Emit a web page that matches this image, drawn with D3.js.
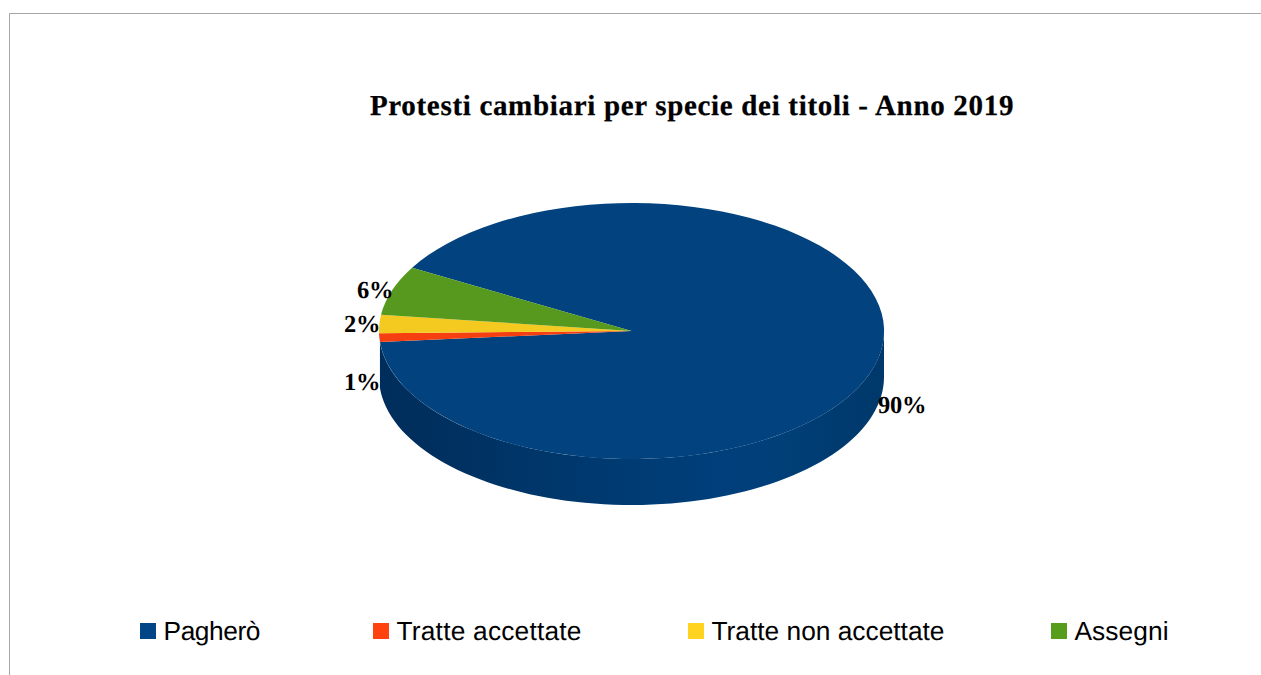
<!DOCTYPE html>
<html>
<head>
<meta charset="utf-8">
<script src="https://d3js.org/d3.v7.min.js"></script>
<style>
  html, body { margin: 0; padding: 0; background: #fff; overflow: hidden; }
  svg { display: block; }
  text { text-rendering: geometricPrecision; }
</style>
</head>
<body>
<svg id="chart" width="1261" height="675"></svg>
<script>
const title = "Protesti cambiari per specie dei titoli - Anno 2019";
const categories = ["Pagherò", "Tratte accettate", "Tratte non accettate", "Assegni"];
const values = [90.4, 1.1, 2.3, 6.2];
const valueLabels = ["90%", "1%", "2%", "6%"];
const legendColors = ["#004586", "#ff420e", "#ffd320", "#579d1c"];
const topColors = ["#02437f", "#f63f10", "#f4ca20", "#56991e"];

const chart = d3.select("#chart");

// frame of the original picture, only top and left are visible
chart.append("path")
  .attr("d", "M9.5,675V13.5H1261")
  .attr("fill", "none")
  .attr("stroke", "#a6a6a6");

chart.append("text")
  .text(title)
  .attr("x", 692)
  .attr("y", 115)
  .attr("text-anchor", "middle")
  .attr("font-family", "'Liberation Serif'")
  .attr("font-weight", "bold")
  .attr("font-size", 29)
  .attr("letter-spacing", 0.68)
  .attr("stroke", "#000")
  .attr("stroke-width", 0.25)
  .attr("fill", "#000");

// pie geometry
const cx = 631.5, cy = 331, rx = 252.5, ry = 128, depth = 46;
const startDeg = 299.6;

const pie = d3.pie().sort(null).value(d => d)
  .startAngle(startDeg * Math.PI / 180)
  .endAngle((startDeg + 360) * Math.PI / 180);
const slices = pie(values);

// flattened circle positions
const xPos = a => cx + rx * Math.sin(a);
const yPos = a => cy - ry * Math.cos(a);

// wall shading
const defs = chart.append("defs");
const shade = defs.append("linearGradient")
  .attr("id", "wall")
  .attr("gradientUnits", "userSpaceOnUse")
  .attr("x1", cx - rx).attr("x2", cx + rx)
  .attr("y1", 0).attr("y2", 0);
shade.selectAll("stop")
  .data([[0, "#002e5c"], [0.1, "#002f5e"], [0.3, "#003669"], [0.5, "#003b73"],
         [0.68, "#003f7b"], [0.8, "#003f78"], [0.93, "#003a6e"], [1, "#00386b"]])
  .enter()
  .append("stop")
  .attr("offset", d => d[0])
  .attr("stop-color", d => d[1]);

// side wall, front half only (90deg to 270deg clockwise from the top)
function wallPath(a0, a1) {
  const n = 80;
  const angles = d3.range(n + 1).map(i => a0 + (a1 - a0) * i / n);
  const wall = d3.area()
    .x(a => xPos(a))
    .y0(a => yPos(a))
    .y1(a => yPos(a) + depth);
  return wall(angles);
}

const front0 = Math.PI / 2, front1 = Math.PI * 1.5;
slices.forEach(function (s, i) {
  // the blue slice wraps around, so its end is brought back by a full turn
  const lo = Math.max(s.startAngle, front0);
  const hi = Math.min(s.endAngle, front1);
  let a0 = lo, a1 = hi;
  if (i === 0) { a0 = front0; a1 = s.endAngle - 2 * Math.PI; }
  if (a1 <= a0) return;
  chart.append("path")
    .attr("d", wallPath(a0, a1))
    .attr("fill", i === 0 ? "url(#wall)" : d3.color(topColors[i]).darker(0.6));
});

// pie top
const arc = d3.arc().innerRadius(0).outerRadius(1);
chart.append("g")
  .attr("transform", "translate(" + cx + "," + cy + ") scale(" + rx + "," + ry + ")")
  .selectAll("path")
  .data(slices)
  .enter()
  .append("path")
  .attr("d", arc)
  .attr("fill", (d, i) => topColors[i]);

// value labels, left edge and baseline
const labelSpots = [[878, 413], [344, 390], [344, 332], [357, 298]];
chart.selectAll("text.value")
  .data(valueLabels)
  .enter()
  .append("text")
  .attr("class", "value")
  .text(d => d)
  .attr("x", (d, i) => labelSpots[i][0])
  .attr("y", (d, i) => labelSpots[i][1])
  .attr("font-family", "'Liberation Serif'")
  .attr("font-weight", "bold")
  .attr("font-size", 24.5)
  .attr("letter-spacing", -0.3)
  .attr("fill", "#000");

// legend
const legendX = [140, 373, 688, 1051];
const legendTextWidth = [97, 185, 233, 94];
const legend = chart.selectAll("g.legend")
  .data(categories)
  .enter()
  .append("g")
  .attr("class", "legend")
  .attr("transform", (d, i) => "translate(" + legendX[i] + ",623)");
legend.append("rect")
  .attr("width", 16)
  .attr("height", 16)
  .attr("fill", (d, i) => legendColors[i]);
legend.append("text")
  .text(d => d)
  .attr("x", 23.5)
  .attr("y", 17)
  .attr("textLength", (d, i) => legendTextWidth[i])
  .attr("lengthAdjust", "spacing")
  .attr("font-family", "'Liberation Sans'")
  .attr("font-size", 26.3)
  .attr("fill", "#000");
</script>
</body>
</html>
